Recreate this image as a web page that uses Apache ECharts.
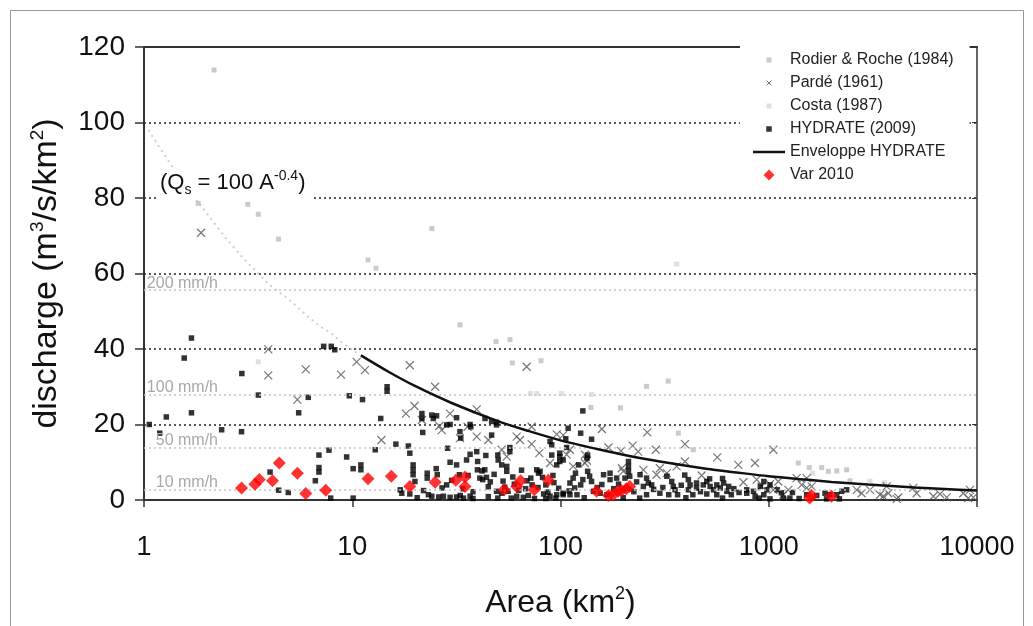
<!DOCTYPE html>
<html><head><meta charset="utf-8">
<script src="https://cdn.jsdelivr.net/npm/echarts@6/dist/echarts.min.js"></script>
<style>html,body{margin:0;padding:0;background:#fff}#c{width:1033px;height:626px}</style>
</head><body><div id="c"></div>
<script>
// ---------- data ----------
const rodierArea = [2.17,1.82,3.15,3.54,4.42,24.1,11.9,13.0,32.9,49.0,57.2,58.7,80.6,259,329,140,194,368,434,1387,1566,1796,1933,2120,2367,2455];
const rodierQ    = [113.9,78.6,78.3,75.7,69.1,71.9,63.6,61.4,46.4,42.0,42.5,36.3,36.9,30.1,31.5,24.5,24.4,17.7,13.3,9.8,8.6,8.6,7.6,7.7,8.0,5.1];

const costaArea = [3.54,71.6,76.9,101,141,361,1620,3063,3600];
const costaQ    = [36.6,28.2,28.2,28.2,28.0,62.5,7.1,5.0,4.6];

const pardeArea = [1.88,3.95,3.95,5.98,5.45,8.83,10.5,11.5,18.9,25.0,68.8,19.9,18.1,29.5,26.2,26.9,21.6,35.8,32.9,39.6,13.8,39.6,45.0,52.2,55.2,61.6,63.9,72.7,72.7,79.1,95.9,103,89.1,158,261,396,170,195,222,236,287,111,107,131,134,566,714,859,396,361,300,324,289,250,476,197,200,131,115,755,875,925,1014,1052,1111,1242,1051,1175,1439,1521,1607,1361,1521,2644,2793,3063,3420,3683,3750,3550,4190,4943,5130,6170,6640,7150,8590,9250,9600,9080,4115];
const pardeQ    = [70.8,39.9,33.0,34.6,26.6,33.2,36.6,34.4,35.7,30.0,35.3,24.9,22.9,22.9,19.6,18.5,21.2,19.4,16.4,24.0,15.9,16.8,15.9,13.3,11.5,16.8,15.9,19.4,14.8,12.4,17.4,17.2,9.8,18.8,17.9,14.8,13.9,13.0,14.4,12.8,13.3,13.3,12.0,12.0,10.4,11.3,9.3,9.8,10.2,8.9,8.4,7.1,6.7,8.0,6.5,8.4,7.6,9.8,8.9,4.7,5.4,3.6,4.2,13.3,4.9,2.7,2.7,1.4,4.0,3.2,3.6,5.8,5.8,2.7,1.8,2.7,1.4,3.6,1.8,1.0,0.7,3.2,1.8,1.0,1.6,0.7,1.8,2.7,0.7,0.5,0.3];

const hydrateArea = [1.69,1.56,2.95,3.54,1.69,1.28,1.06,1.19,2.36,2.94,5.53,6.15,9.68,7.29,7.93,8.24,4.03,4.43,4.93,6.92,7.73,6.92,6.92,6.65,7.88,9.4,10.1,10.1,
 11.2,14.7,14.7,13.7,12.9,11.0,11.0,16.2,18.6,18.9,19.6,19.6,19.6,20.0,17.0,17.3,18.9,21.8,21.6,21.6,24.1,25.4,24.5,22.9,22.9,25.3,25.6,23.2,24.1,28.4,29.5,31.7,28.7,29.5,27.4,29.5,31.7,34.2,36.8,32.9,33.2,36.8,37.1,35.4,36.8,39.6,39.9,42.0,43.3,41.0,42.3,44.1,43.4,46.7,49.3,49.3,46.7,43.8,50.0,50.2,52.2,55.2,55.2,57.1,57.1,49.3,52.2,56.0,61.6,66.3,76.9,78.4,79.8,89.1,90.8,90.8,99.2,99.2,95.9,83.0,89.1,95.9,103,31.7,32.7,28.4,
 20.5,26,33,38,45,58,70,75,95,45,60,68,72,85,92,
 128,125,141,106,107,108.8,99.2,103,135,134,212,212,212,204,215,111,115,117,125,128,135,138,141,161,173,173,186,241,259,264,274,250,324,342,348,355,411,419,411,450,450,485,504,523,543,563,585,607,630,642,784,845,911,947,1014,144,155,167,103,111,120,259,300,331,365,432,504,563,661,784,947,
 1099,1175,1263,1014,1521,1863,1966,2120,2240,2367,1895,2184,
 22,27,30,34,36,38,40,46,48,53,54,59,63,65,69,73,78,82,87,93,98,110,118,122,150,158,180,190,225,232,280,310,380,395,470,520,600,680,720,860,980,1150,1300,1700,50,85,130,200,240,400,600,900,1400];
const hydrateQ = [42.9,37.6,33.5,27.8,23.1,22.0,20.0,17.7,18.6,18.1,23.1,27.2,27.6,40.7,40.7,39.8,7.4,2.6,2.0,11.9,13.2,8.6,7.4,5.1,0.5,11.4,8.3,0.5,
 26.6,30.0,28.8,21.6,13.3,9.3,8.0,14.8,14.3,12.4,9.3,8.0,6.7,4.9,2.7,1.8,1.6,17.9,22.9,21.6,22.5,22.3,21.6,7.1,5.8,8.3,6.7,1.4,1.0,19.9,20.0,21.8,13.7,10.0,1.0,0.7,0.8,0.5,1.0,18.1,16.4,20.0,19.4,10.6,12.1,12.8,8.0,7.7,8.0,5.8,5.4,6.0,21.6,20.8,20.6,19.9,17.2,11.8,11.9,10.6,9.3,8.9,7.6,13.9,12.8,2.3,1.8,2.3,1.0,0.7,8.0,7.1,7.6,15.5,14.6,11.9,12.4,10.2,9.3,1.6,1.0,1.4,1.8,9.3,6.7,4.0,
 0.6,0.8,1.2,0.4,0.9,0.5,1.2,0.4,0.5,3.5,4.2,3.0,5.8,4.0,6.5,
 23.6,17.7,16.1,16.2,13.9,19.0,11.5,10.6,11.9,11.1,10.2,8.9,7.6,5.8,6.3,4.5,5.8,3.2,4.0,5.4,7.6,6.3,4.9,6.7,7.1,5.4,5.8,6.7,5.8,4.5,4.0,3.6,6.3,4.9,3.6,2.7,5.4,4.0,2.7,4.5,3.2,4.0,4.9,3.6,2.7,4.0,3.2,4.5,2.3,3.6,2.7,2.3,3.6,4.9,4.0,2.3,1.8,1.4,1.4,1.4,1.4,1.4,1.8,1.4,1.4,1.4,1.6,1.4,1.4,1.8,1.4,
 2.7,0.5,0.5,0.3,1.4,1.8,1.4,1.4,2.3,2.7,0.3,0.3,
 2.5,3.2,5.2,3.0,6.5,2.2,10.2,4.8,6.8,5.0,3.4,6.1,2.6,7.9,5.1,4.0,3.3,6.0,2.1,4.6,3.1,2.4,7.1,9.3,3.3,4.1,3.0,4.2,2.2,4.8,2.8,3.3,3.9,6.6,2.2,5.6,5.7,3.0,2.0,1.0,2.7,1.9,2.0,1.2,0.5,0.4,0.6,0.6,0.5,0.6,0.5,0.5,0.4];

const varArea = [2.94,3.41,3.58,4.14,4.46,5.45,5.98,7.46,11.9,15.4,18.9,25.0,31.4,34.8,34.8,53.6,61.6,64.3,74.8,87.4,149,170,179,189,196,207,215,1571,1607,2000];
const varQ    = [3.2,4.2,5.4,5.1,9.8,7.1,1.7,2.6,5.6,6.3,3.6,4.7,5.2,6.1,3.6,2.7,3.6,5.1,2.7,5.2,2.3,1.2,1.4,2.3,2.5,3.0,3.6,0.5,1.2,1.0];

const envArea = [11,15,20,30,50,70,100,150,200,300,500,700,1000,1500,2000,3000,5000,7000,10000];
const envQ    = [38.3,33.9,30.2,25.7,20.9,18.3,15.8,13.5,12.0,10.2,8.3,7.3,6.3,5.4,4.8,4.1,3.3,2.9,2.5];

const curveArea = [1.05,1.2,1.5,2,2.5,3,4,5,6,7,8,9,10.5];
const curveQ    = [98,93,85,76,69,64,57,53,49,46,44,41.5,39];

const mmValues = [55.6,27.8,13.9,2.78];
const mmLabels = ['200 mm/h','100 mm/h','50 mm/h','10 mm/h'];

const seriesNames = ['Rodier & Roche (1984)','Pardé (1961)','Costa (1987)','HYDRATE (2009)','Enveloppe HYDRATE','Var 2010'];

// ---------- chart ----------
const zip = (a,b)=>a.map((v,i)=>[v,b[i]]);
const FONT = '"Liberation Sans", Arial, sans-serif';
const SQ_SMALL = 'path://M0,0M12,12M3.5,3.5h5v5h-5z';
const SQ = 'path://M0,0M12,12M3.25,3.25h5.5v5.5h-5.5z';
const X_ICON = 'path://M0,0M12,12M3.5,3.5L8.5,8.5M8.5,3.5L3.5,8.5';
const DIAMOND = 'path://M0,0M12,12M6,0.5L11.5,6L6,11.5L0.5,6Z';
const LINE_ICON = 'path://M0,0M32,12M0,4.75h32v2.5h-32z';

const chart = echarts.init(document.getElementById('c'));
const option = {
  animation: false,
  backgroundColor: '#fff',
  textStyle: {fontFamily: FONT},
  grid: {left: 144, right: 56, top: 47, bottom: 124},
  xAxis: [{
    type: 'log', logBase: 10, min: 1, max: 10000, position: 'bottom',
    axisLine: {onZero: false, lineStyle: {color: '#333', width: 2}},
    axisTick: {show: true, length: 7, lineStyle: {color: '#333', width: 1.5}},
    minorTick: {show: false}, splitLine: {show: false},
    axisLabel: {fontSize: 27, color: '#111', margin: 34, fontFamily: FONT,
                formatter: v => String(Math.round(v))},
    name: 'Area (km{sup|2})', nameLocation: 'middle', nameGap: 85,
    nameTextStyle: {fontSize: 32, color: '#111', lineHeight: 36, fontFamily: FONT,
      rich: {sup: {fontSize: 18, lineHeight: 18, verticalAlign: 'top', color: '#111', fontFamily: FONT}}}
  }, {
    type: 'log', logBase: 10, min: 1, max: 10000, position: 'top',
    axisLine: {onZero: false, lineStyle: {color: '#333', width: 2}},
    axisTick: {show: false}, axisLabel: {show: false}, splitLine: {show: false}
  }],
  yAxis: [{
    type: 'value', min: 0, max: 120, interval: 20, position: 'left',
    axisLine: {show: true, onZero: false, lineStyle: {color: '#333', width: 2}},
    axisTick: {show: true, length: 9, lineStyle: {color: '#333', width: 1.5}},
    axisLabel: {fontSize: 28, color: '#111', margin: 19, fontFamily: FONT},
    splitLine: {show: true, lineStyle: {color: '#222', type: [2, 3], width: 1.5}},
    name: 'discharge (m{sup|3}/s/km{sup|2})', nameLocation: 'middle', nameGap: 78,
    nameTextStyle: {fontSize: 34, color: '#111', lineHeight: 38, fontFamily: FONT,
      rich: {sup: {fontSize: 19, lineHeight: 19, verticalAlign: 'top', color: '#111', fontFamily: FONT}}}
  }, {
    type: 'value', min: 0, max: 120, interval: 20, position: 'right',
    axisLine: {show: true, onZero: false, lineStyle: {color: '#333', width: 1.5}},
    axisTick: {show: true, inside: true, length: 5, lineStyle: {color: '#333'}},
    axisLabel: {show: false}, splitLine: {show: false}
  }],
  legend: {
    orient: 'vertical', left: 740, top: 42, backgroundColor: '#fff',
    padding: [9, 16, 8, 13], itemWidth: 32, itemHeight: 12, itemGap: 5,
    textStyle: {fontSize: 16, color: '#222', lineHeight: 18, fontFamily: FONT},
    selectedMode: false,
    data: [
      {name: seriesNames[0], icon: SQ_SMALL, itemStyle: {color: '#bdbdbd'}},
      {name: seriesNames[1], icon: X_ICON, itemStyle: {color: 'transparent', borderColor: '#555', borderWidth: 1}},
      {name: seriesNames[2], icon: SQ_SMALL, itemStyle: {color: '#d8d8d8'}},
      {name: seriesNames[3], icon: SQ, itemStyle: {color: '#000'}},
      {name: seriesNames[4], icon: LINE_ICON, itemStyle: {color: '#111', borderWidth: 0}},
      {name: seriesNames[5], icon: DIAMOND, itemStyle: {color: '#ff0000'}}
    ]
  },
  graphic: [
    {type: 'text', left: 157, top: 167, z: 50, silent: true,
     style: {text: '(Q{sub|s} = 100 A{sup|-0.4})', fill: '#111', fontSize: 22, fontFamily: FONT, lineHeight: 28,
       backgroundColor: '#fff', padding: [2, 6, 3, 3],
       rich: {sub: {fontSize: 14, lineHeight: 14, verticalAlign: 'bottom', fill: '#111', fontFamily: FONT},
              sup: {fontSize: 14, lineHeight: 14, verticalAlign: 'top', fill: '#111', fontFamily: FONT}}}},
    {type: 'rect', silent: true, z: 100, shape: {x: 10.5, y: 10.5, width: 1013, height: 640},
     style: {fill: 'none', stroke: '#999', lineWidth: 1}}
  ],
  series: [
    {name: 'curve', type: 'line', data: zip(curveArea, curveQ), symbol: 'none', silent: true,
     lineStyle: {color: '#cfcfcf', width: 2, type: [2, 4]}, z: 1,
     markLine: {silent: true, symbol: 'none',
       lineStyle: {color: '#c4c4c4', type: [2, 3], width: 1.5},
       label: {show: true, position: 'insideStartTop', formatter: '{b}', color: '#a8a8a8', fontSize: 16,
               fontFamily: FONT, align: 'right', distance: [74, -1]},
       data: mmValues.map((v, i) => ({name: mmLabels[i], yAxis: v}))}},
    {name: seriesNames[2], type: 'scatter', data: zip(costaArea, costaQ), symbol: 'rect', symbolSize: 5,
     itemStyle: {color: '#d8d8d8'}, z: 2},
    {name: seriesNames[0], type: 'scatter', data: zip(rodierArea, rodierQ), symbol: 'rect', symbolSize: 5,
     itemStyle: {color: '#bdbdbd'}, z: 2},
    {name: seriesNames[1], type: 'scatter', data: zip(pardeArea, pardeQ), symbol: 'path://M0,0L10,10M10,0L0,10', symbolSize: 8,
     itemStyle: {color: 'transparent', borderColor: '#555', borderWidth: 1.2}, z: 3},
    {name: seriesNames[3], type: 'scatter', data: zip(hydrateArea, hydrateQ), symbol: 'rect', symbolSize: 5.5,
     itemStyle: {color: '#000'}, z: 4},
    {name: seriesNames[4], type: 'line', data: zip(envArea, envQ), symbol: 'none', smooth: 0.3,
     lineStyle: {color: '#111', width: 2.5}, itemStyle: {color: '#111'}, z: 5},
    {name: seriesNames[5], type: 'scatter', data: zip(varArea, varQ), symbol: 'diamond', symbolSize: 13,
     itemStyle: {color: '#ff0000'}, z: 6}
  ]
};
chart.setOption(option);
</script></body></html>
